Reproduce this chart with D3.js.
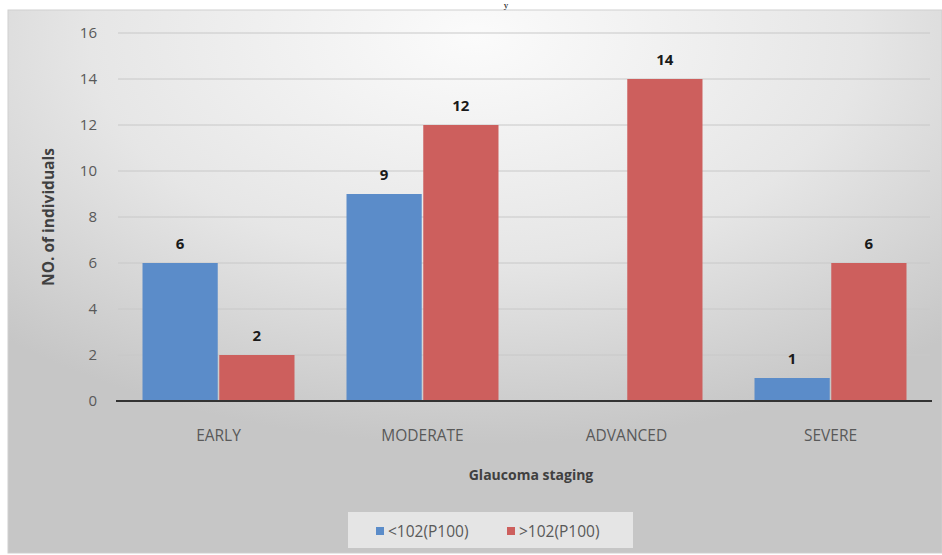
<!DOCTYPE html>
<html><head><meta charset="utf-8">
<script src="https://cdn.jsdelivr.net/npm/d3@7"></script>
<style>
html,body{margin:0;padding:0;background:#fff;}
svg{display:block;font-family:"Open Sans",sans-serif;}
</style></head>
<body>
<svg id="chart" width="942" height="555"></svg>
<script>
const categories = ["EARLY","MODERATE","ADVANCED","SEVERE"];
const seriesNames = ["<102(P100)", ">102(P100)"];
const seriesLow = [6, 9, null, 1];
const seriesHigh = [2, 12, 14, 6];
const yTicks = [0,2,4,6,8,10,12,14,16];
const colors = ["#5b8cc9", "#cd5f5d"];

const svg = d3.select("#chart");
const W = 942, H = 555;
const defs = svg.append("defs");
const grad = defs.append("radialGradient").attr("id","bg")
  .attr("cx","0.5").attr("cy","0.05").attr("r","0.75")
  .attr("gradientUnits","objectBoundingBox");
grad.append("stop").attr("offset","0").attr("stop-color","#fbfbfb");
grad.append("stop").attr("offset","0.55").attr("stop-color","#e6e6e6");
grad.append("stop").attr("offset","1").attr("stop-color","#c6c6c6");

svg.append("rect").attr("x",8).attr("y",10).attr("width",W-8).attr("height",543)
  .attr("fill","url(#bg)").attr("stroke","#cfcfcf").attr("stroke-width",1);

// top partial title
svg.append("text").attr("x",506).attr("y",8).attr("text-anchor","middle")
  .attr("font-family","Liberation Serif, serif").attr("font-size",9).attr("fill","#000").text("y");

const x0 = d3.scaleBand().domain(categories).range([116.5,932.5]).paddingInner(0.255).paddingOuter(0.1275);
const x1 = d3.scaleBand().domain([0,1]).range([0,x0.bandwidth()]).paddingInner(0.02);
const y = d3.scaleLinear().domain([0,16]).range([401,33]);

// gridlines
svg.append("g").selectAll("line").data(yTicks.filter(d=>d>0)).join("line")
  .attr("x1",118).attr("x2",930).attr("y1",d=>y(d)).attr("y2",d=>y(d))
  .attr("stroke","#c8c8c8").attr("stroke-width",1);

// y axis labels
const yAxis = d3.axisLeft(y).tickValues(yTicks).tickSize(0).tickPadding(0);
const ga = svg.append("g").attr("transform","translate(97,0)").call(yAxis);
ga.select(".domain").remove();
ga.selectAll("text").attr("font-size",15).attr("fill","#595959").attr("font-family","Open Sans, sans-serif");

// bars
const data = categories.map((c,i)=>({c, vals:[seriesLow[i], seriesHigh[i]]}));
const grp = svg.append("g").selectAll("g").data(data).join("g")
  .attr("transform",d=>`translate(${x0(d.c)},0)`);
grp.selectAll("rect").data(d=>d.vals.map((v,k)=>({v,k})).filter(e=>e.v!=null)).join("rect")
  .attr("x",e=>x1(e.k)).attr("width",x1.bandwidth())
  .attr("y",e=>y(e.v)).attr("height",e=>y(0)-y(e.v))
  .attr("fill",e=>colors[e.k]);
grp.selectAll("text").data(d=>d.vals.map((v,k)=>({v,k})).filter(e=>e.v!=null)).join("text")
  .attr("x",e=>x1(e.k)+x1.bandwidth()/2).attr("y",e=>y(e.v)-14)
  .attr("text-anchor","middle").attr("font-size",15).attr("font-weight","bold")
  .attr("fill","#1a1a1a").text(e=>e.v);

// baseline
svg.append("line").attr("x1",116).attr("x2",932).attr("y1",y(0)).attr("y2",y(0))
  .attr("stroke","#333").attr("stroke-width",2);

// x axis labels
const xAxis = d3.axisBottom(x0).tickSize(0).tickPadding(0);
const gx = svg.append("g").attr("transform",`translate(0,${y(0)+40})`).call(xAxis);
gx.select(".domain").remove();
gx.selectAll("text").attr("font-size",15.5).attr("fill","#595959").attr("font-family","Open Sans, sans-serif").attr("dy",0);

// axis titles
svg.append("text").attr("x",531).attr("y",480).attr("text-anchor","middle")
  .attr("font-size",14).attr("font-weight","bold").attr("fill","#404040").text("Glaucoma staging");
svg.append("text").attr("transform","translate(54,217) rotate(-90)").attr("text-anchor","middle")
  .attr("font-size",15.5).attr("font-weight","bold").attr("fill","#404040").text("NO. of individuals");

// legend
const lg = svg.append("g");
lg.append("rect").attr("x",348).attr("y",512).attr("width",285).attr("height",36)
  .attr("fill","#ececec").attr("opacity",0.8);
const items = lg.selectAll("g").data(seriesNames).join("g")
  .attr("transform",(d,i)=>`translate(${i===0?376:507},0)`);
items.append("rect").attr("x",0).attr("y",527).attr("width",8).attr("height",8).attr("fill",(d,i)=>colors[i]);
items.append("text").attr("x",12).attr("y",537).attr("font-size",15.5).attr("fill","#595959").text(d=>d);
</script>
</body></html>
